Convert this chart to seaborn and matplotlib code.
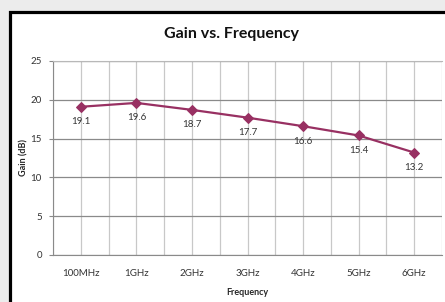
import numpy as np
import pandas as pd
import matplotlib
matplotlib.use('Agg')
import matplotlib.pyplot as plt
from matplotlib.patches import Rectangle
import seaborn as sns

# 数据
freq_labels = ['100MHz', '1GHz', '2GHz', '3GHz', '4GHz', '5GHz', '6GHz']
gain_db = [19.1, 19.6, 18.7, 17.7, 16.6, 15.4, 13.2]
y_ticks = [0, 5, 10, 15, 20, 25]

df = pd.DataFrame({'pos': np.arange(len(freq_labels)), 'gain': gain_db})

sns.set_style('white')
plt.rcParams['font.family'] = ['Lato', 'DejaVu Sans']

line_color = '#983062'

fig = plt.figure(figsize=(4.45, 3.02), dpi=100, facecolor='#ececec')
# 外框
fig.patches.append(Rectangle((9.5 / 445, -0.1), 1.2, 1 - 12 / 302 + 0.1,
                             transform=fig.transFigure, facecolor='white',
                             edgecolor='black', linewidth=2.3, zorder=-10))

ax = fig.add_axes([53 / 445, 1 - 255 / 302, (442 - 53) / 445, (255 - 61) / 302])
ax.set_facecolor('white')

sns.lineplot(data=df, x='pos', y='gain', marker='D', markersize=5,
             markeredgecolor=line_color, color=line_color, linewidth=1.6, ax=ax)

for x, y in zip(df['pos'], df['gain']):
    ax.annotate(f'{y:.1f}', (x, y), xytext=(0, -7.5), textcoords='offset points',
                ha='center', va='top', fontsize=7, color='#333333')

ax.set_xlim(-0.5, len(freq_labels) - 0.5)
ax.set_ylim(0, 25)
ax.set_yticks(y_ticks)
ax.set_xticks(df['pos'])
ax.set_xticklabels(freq_labels)
ax.set_xticks(np.arange(-0.5, len(freq_labels), 1.0), minor=True)

ax.tick_params(axis='y', which='major', length=3, color='#8a8a8a', labelsize=7,
               pad=5, labelcolor='#333333', left=True)
ax.tick_params(axis='x', which='both', length=0, labelsize=7, pad=10,
               labelcolor='#333333')

ax.yaxis.grid(True, which='major', color='#8a8a8a', linewidth=0.9)
ax.xaxis.grid(True, which='major', color='#c8c8c8', linewidth=0.9)
ax.xaxis.grid(True, which='minor', color='#c8c8c8', linewidth=0.9)
ax.set_axisbelow(True)

ax.spines['right'].set_visible(False)
ax.spines['left'].set_color('#8a8a8a')
ax.spines['bottom'].set_color('#8a8a8a')
ax.spines['top'].set_visible(True)
ax.spines['top'].set_color('#b8b8b8')

ax.set_xlabel('Frequency', fontsize=6.5, fontweight='bold', labelpad=7)
ax.set_ylabel('Gain (dB)', fontsize=6.5, fontweight='bold')
ax.yaxis.set_label_coords((28 - 53) / 389, 0.5)

fig.text(232 / 445, 1 - 34 / 302, 'Gain vs. Frequency', ha='center', va='center',
         fontsize=11.5, fontweight='bold', color='#111111')

fig.savefig('out.png', dpi=100, facecolor=fig.get_facecolor())
